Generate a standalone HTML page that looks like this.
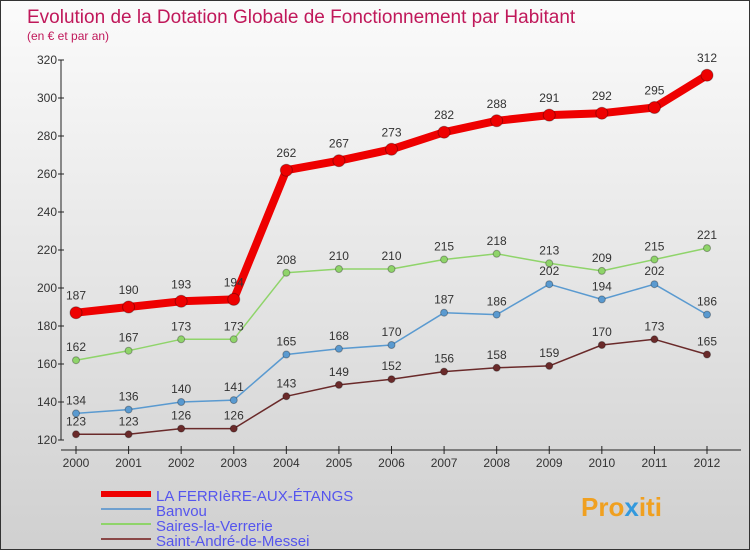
<!DOCTYPE html>
<html><head><meta charset="utf-8"><style>
body{margin:0}
#c{width:748px;height:548px;border:1px solid #333;background:linear-gradient(#fbfbfb,#d0d0d0);position:relative;overflow:hidden;font-family:"Liberation Sans",sans-serif}
</style></head><body>
<div id="c">
<svg id="s" width="748" height="548" xmlns="http://www.w3.org/2000/svg">
<text x="26" y="22" font-size="19" fill="#c0185a">Evolution de la Dotation Globale de Fonctionnement par Habitant</text>
<text x="26" y="39" font-size="12" fill="#c0185a">(en € et par an)</text>
<g id="axes"></g><g id="series"></g>
<g>
<line x1="100" y1="493" x2="150" y2="493" stroke="#e00" stroke-width="6"/>
<text x="155" y="500" font-size="15" fill="#5555ee">LA FERRIèRE-AUX-ÉTANGS</text>
<line x1="100" y1="508" x2="150" y2="508" stroke="#6fa0cf" stroke-width="2"/>
<text x="155" y="515" font-size="15" fill="#5555ee">Banvou</text>
<line x1="100" y1="523" x2="150" y2="523" stroke="#8fd46a" stroke-width="2"/>
<text x="155" y="530" font-size="15" fill="#5555ee">Saires-la-Verrerie</text>
<line x1="100" y1="538" x2="150" y2="538" stroke="#8a4848" stroke-width="2"/>
<text x="155" y="545" font-size="15" fill="#5555ee">Saint-André-de-Messei</text>
</g>
<text x="580" y="515" font-size="26" font-weight="bold" fill="#f0a020">Pro<tspan fill="#3399dd">x</tspan>iti</text>
</svg></div>
<script>
const years=[2000,2001,2002,2003,2004,2005,2006,2007,2008,2009,2010,2011,2012];
const yTicks=[120,140,160,180,200,220,240,260,280,300,320];
const ferriere=[187,190,193,194,262,267,273,282,288,291,292,295,312];
const banvou=[134,136,140,141,165,168,170,187,186,202,194,202,186];
const saires=[162,167,173,173,208,210,210,215,218,213,209,215,221];
const andre=[123,123,126,126,143,149,152,156,158,159,170,173,165];
const NS="http://www.w3.org/2000/svg";
const X=i=>75+i*(706-75)/(years.length-1);
const Y=v=>439-(v-120)*1.9;
function mk(tag,at,par){const e=document.createElementNS(NS,tag);for(const k in at)e.setAttribute(k,at[k]);par.appendChild(e);return e;}
const ax=document.getElementById('axes');
mk('line',{x1:60,y1:Y(320),x2:60,y2:Y(120),stroke:'#222'},ax);
mk('line',{x1:60,y1:Y(120)+10,x2:740,y2:Y(120)+10,stroke:'#222'},ax);
yTicks.forEach(v=>{const t=mk('text',{x:56,y:Y(v)+4,'font-size':12,fill:'#333','text-anchor':'end'},ax);t.textContent=v;


mk('line',{x1:57,y1:Y(v),x2:63,y2:Y(v),stroke:'#222'},ax);});
years.forEach((y,i)=>{const t=mk('text',{x:X(i),y:Y(120)+27,'font-size':12,fill:'#333','text-anchor':'middle'},ax);t.textContent=y;


mk('line',{x1:X(i),y1:Y(120)+6,x2:X(i),y2:Y(120)+14,stroke:'#222'},ax);});
const sg=document.getElementById('series');
function draw(d,col,w,r,name){const g=mk('g',{},sg);


mk('polyline',{points:d.map((v,i)=>X(i)+','+Y(v)).join(' '),fill:'none',stroke:col,'stroke-width':w,'stroke-linejoin':'round'},g);
d.forEach((v,i)=>{const c=mk('circle',{cx:X(i),cy:Y(v),r:r,fill:col,stroke:'rgba(0,0,0,0.3)'},g);


const t=mk('text',{x:X(i),y:Y(v)-9-(r>4?4:0),'font-size':12,fill:'#333','text-anchor':'middle'},g);t.textContent=v;

});}
draw(andre,'#6a2a2a',1.5,3.5,'series-saint-andre');
draw(banvou,'#5a9ad0',1.5,3.5,'series-banvou');
draw(saires,'#8fd46a',1.5,3.5,'series-saires');
draw(ferriere,'#ee0000',8,6,'series-la-ferriere');
</script>
</body></html>
